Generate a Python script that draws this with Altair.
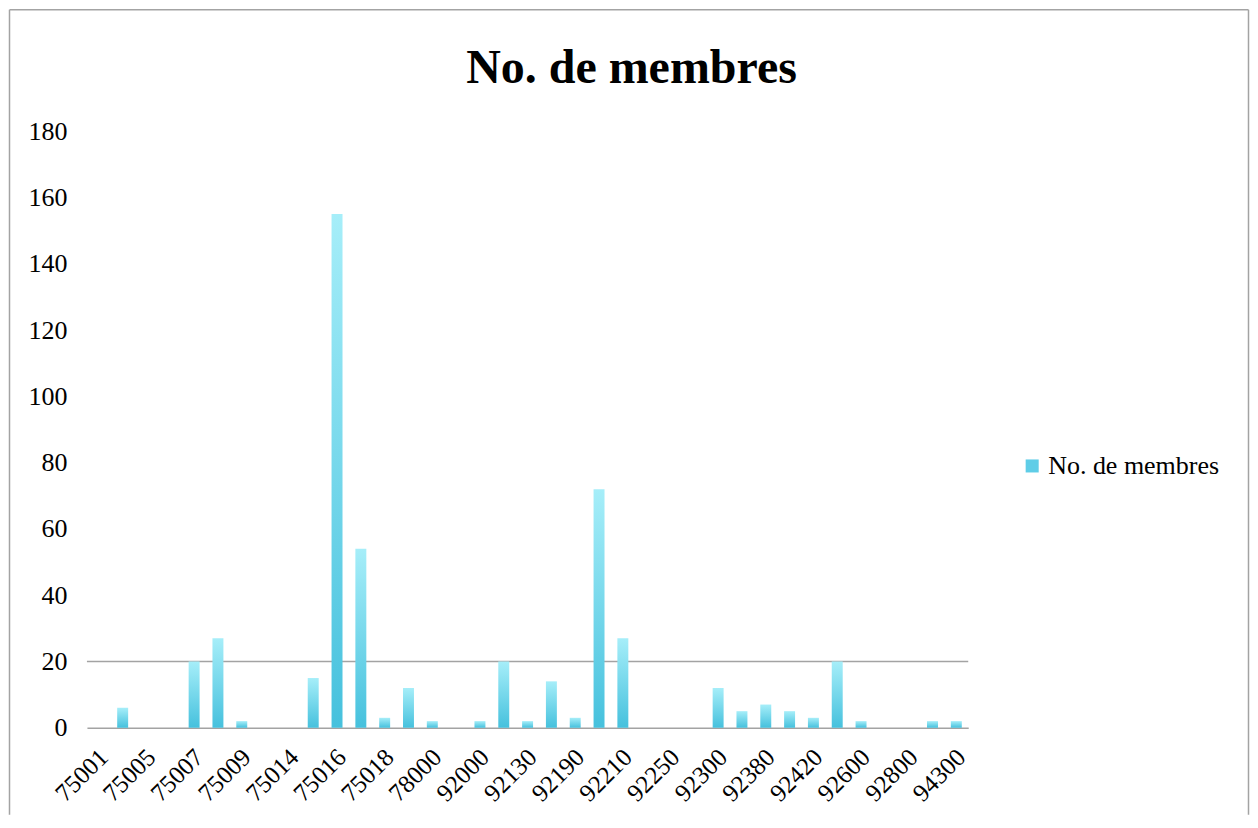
import altair as alt
import pandas as pd

# ---- data ----
codes = [
    "75001", "75002", "75005", "75006", "75007", "75008", "75009", "75011",
    "75014", "75015", "75016", "75017", "75018", "75020", "78000", "91000",
    "92000", "92100", "92130", "92150", "92190", "92200", "92210", "92240",
    "92250", "92270", "92300", "92310", "92380", "92400", "92420", "92500",
    "92600", "92700", "92800", "93000", "94300",
]
members = [
    0, 6, 0, 0, 20, 27, 2, 0,
    0, 15, 155, 54, 3, 12, 2, 0,
    2, 20, 2, 14, 3, 72, 27, 0,
    0, 0, 12, 5, 7, 5, 3, 20,
    2, 0, 0, 2, 2,
]
shown_labels = [
    "75001", "75005", "75007", "75009", "75014", "75016", "75018", "78000",
    "92000", "92130", "92190", "92210", "92250", "92300", "92380", "92420",
    "92600", "92800", "94300",
]
y_ticks = [0, 20, 40, 60, 80, 100, 120, 140, 160, 180]
series_name = "No. de membres"
title_text = "No. de membres"

df = pd.DataFrame({"code": codes, "membres": members, "serie": [series_name] * len(codes)})
one = pd.DataFrame({"k": [0]})

W, H = 882, 597
FONT = "Liberation Serif"
GRAY = "#a3a3a3"

x_enc = alt.X(
    "code:N",
    sort=codes,
    scale=alt.Scale(paddingInner=0.54, paddingOuter=0.27),
    axis=alt.Axis(
        title=None, values=shown_labels, labelAngle=-45, labelAlign="right",
        labelBaseline="middle", labelPadding=25, labelOffset=5, labelFont=FONT,
        labelFontSize=25, labelColor="#000000", ticks=False, domain=True,
        domainColor=GRAY, domainWidth=1.5, grid=False, labelOverlap=False,
    ),
)
y_enc = alt.Y(
    "membres:Q",
    scale=alt.Scale(domain=[0, 180], nice=False),
    axis=alt.Axis(
        title=None, values=y_ticks, labelFont=FONT, labelFontSize=26,
        labelColor="#000000", labelPadding=20, ticks=False, domain=False, grid=False,
    ),
)

gradient = alt.Gradient(
    gradient="linear",
    stops=[alt.GradientStop(color="#a6eef9", offset=0),
           alt.GradientStop(color="#46c1dd", offset=1)],
    x1=0, x2=0, y1=0, y2=1,
)

# decorative outer frame (left, top, right)
frame_left = alt.Chart(one).mark_rule(color=GRAY, strokeWidth=1.5).encode(
    x=alt.value(-77.5), y=alt.value(-121.5), y2=alt.value(684))
frame_top = alt.Chart(one).mark_rule(color=GRAY, strokeWidth=1.5).encode(
    x=alt.value(-77.5), x2=alt.value(1162.5), y=alt.value(-121.5))
frame_right = alt.Chart(one).mark_rule(color=GRAY, strokeWidth=1.5).encode(
    x=alt.value(1162.5), y=alt.value(-121.5), y2=alt.value(684))

title = alt.Chart(one).mark_text(
    text=title_text, font=FONT, fontSize=48, fontWeight="bold", color="#000000",
    align="center", baseline="alphabetic",
).encode(x=alt.value(545), y=alt.value(-48))

grid20 = alt.Chart(one).mark_rule(color=GRAY, strokeWidth=1.5).encode(y=alt.datum(20))

bars = alt.Chart(df).mark_bar(fill=gradient).encode(x=x_enc, y=y_enc)

legend_layer = alt.Chart(df).mark_bar(opacity=0).encode(
    x=x_enc, y=y_enc,
    color=alt.Color(
        "serie:N",
        scale=alt.Scale(range=["#5fcde7"]),
        legend=alt.Legend(
            title=None, orient="none", legendX=933, legendY=322,
            symbolType="square", symbolSize=170, symbolOpacity=1,
            symbolStrokeWidth=0, labelFont=FONT, labelFontSize=26,
            labelColor="#000000", labelOffset=3, labelLimit=0, padding=0,
        ),
    ),
)

chart = alt.layer(
    frame_left, frame_top, frame_right, title, grid20, bars, legend_layer
).properties(width=W, height=H, padding=0, background="#ffffff").configure_view(stroke=None)

chart.save("out.html", embed_options={"renderer": "svg", "actions": False})
